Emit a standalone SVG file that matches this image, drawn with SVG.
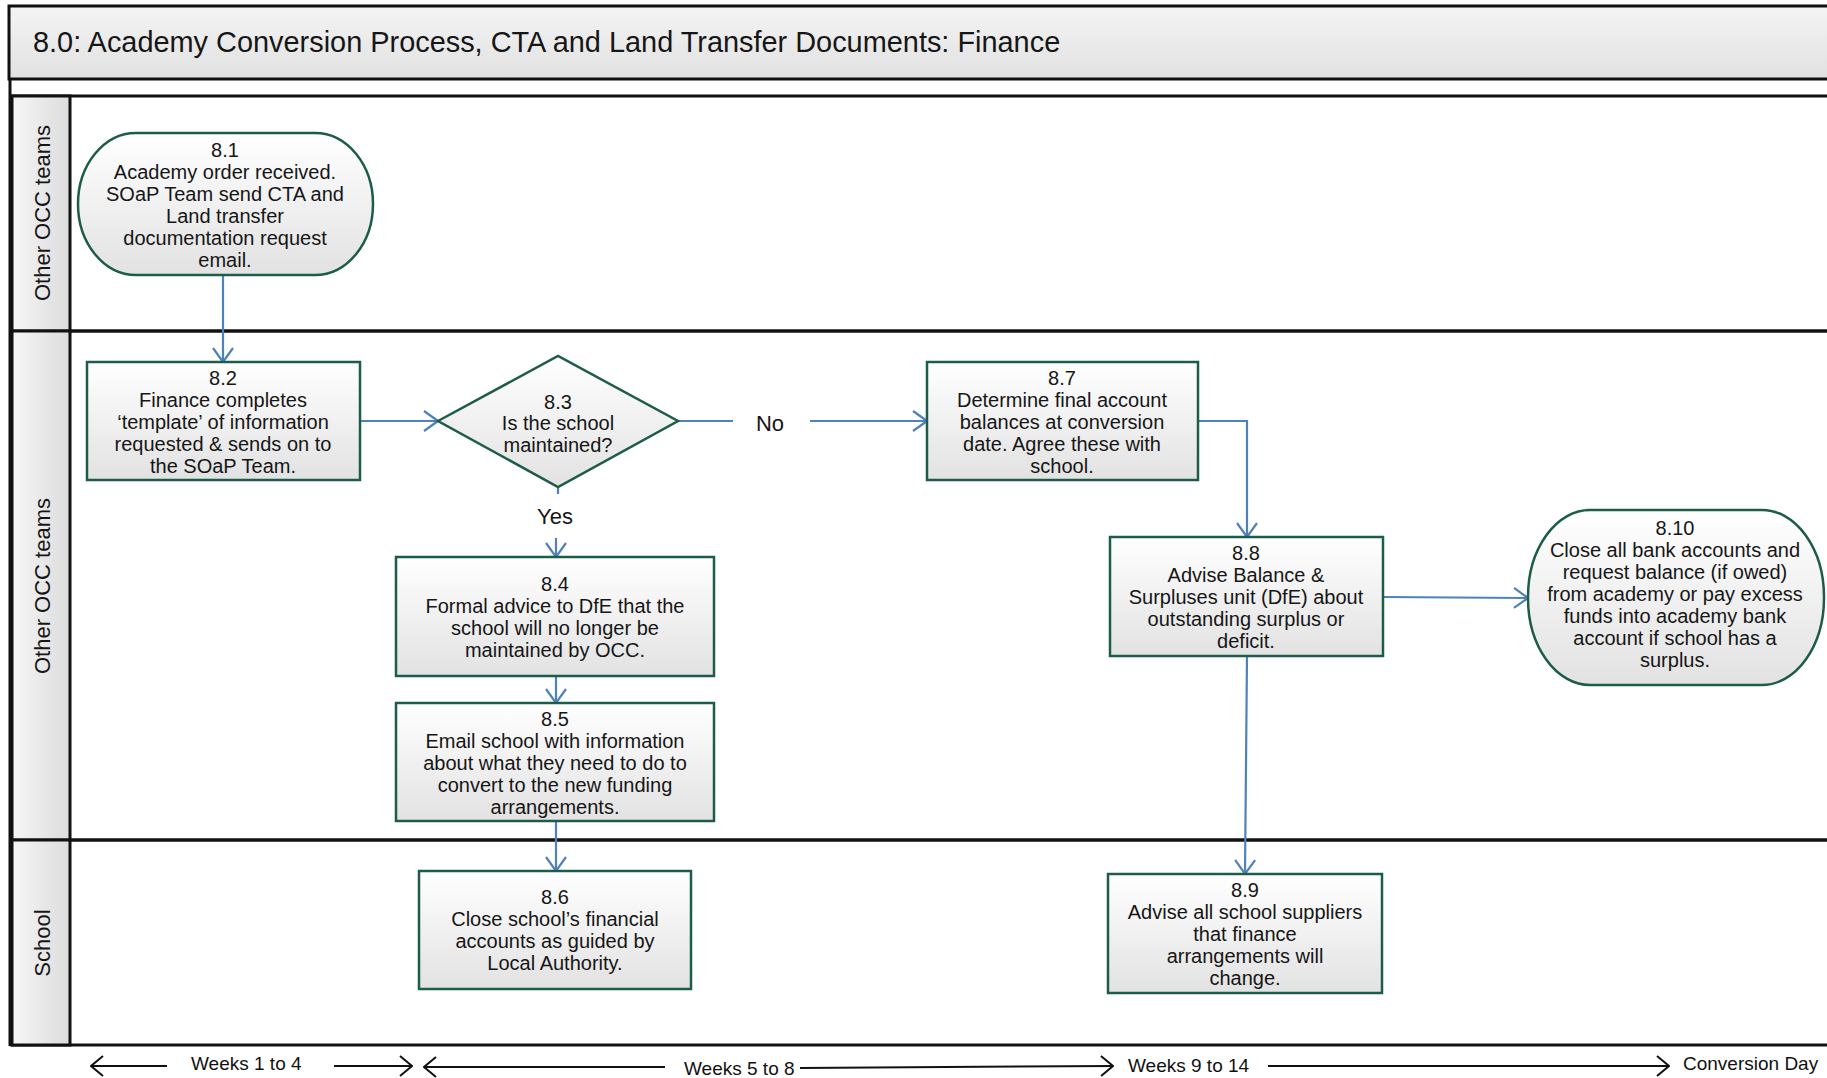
<svg xmlns="http://www.w3.org/2000/svg" width="1827" height="1078" viewBox="0 0 1827 1078">
<defs>
<linearGradient id="gNode" x1="0" y1="0" x2="0" y2="1"><stop offset="0" stop-color="#ffffff"/><stop offset="1" stop-color="#e2e2e2"/></linearGradient>
<linearGradient id="gTitle" x1="0" y1="0" x2="0" y2="1"><stop offset="0" stop-color="#f4f4f4"/><stop offset="1" stop-color="#e1e1e1"/></linearGradient>
<linearGradient id="gLane" x1="0" y1="0" x2="1" y2="0"><stop offset="0" stop-color="#f6f6f6"/><stop offset="1" stop-color="#dcdcdc"/></linearGradient>
<marker id="ab" viewBox="0 0 16 22" refX="15" refY="11" markerWidth="16" markerHeight="22" markerUnits="userSpaceOnUse" orient="auto"><path d="M1,1 L15,11 L1,21" fill="none" stroke="#4f81bd" stroke-width="2.2"/></marker>
<marker id="ak" viewBox="0 0 14 22" refX="13" refY="11" markerWidth="14" markerHeight="22" markerUnits="userSpaceOnUse" orient="auto"><path d="M1,1 L13,11 L1,21" fill="none" stroke="#111" stroke-width="2"/></marker>
</defs>
<style>
.frame{fill:none;stroke:#111;stroke-width:3}
.lanelab{fill:url(#gLane);stroke:#111;stroke-width:3}
.node{fill:url(#gNode);stroke:#1d5c48;stroke-width:2.5}
.t{font-family:"Liberation Sans",Arial,sans-serif;font-size:20px;fill:#161616;text-anchor:middle}
.lt{font-family:"Liberation Sans",Arial,sans-serif;font-size:22px;fill:#161616;text-anchor:middle}
.tl{font-family:"Liberation Sans",Arial,sans-serif;font-size:19px;fill:#111}
.c{fill:none;stroke:#4f81bd;stroke-width:2.2}
.k{fill:none;stroke:#111;stroke-width:2}
</style>
<rect width="1827" height="1078" fill="#ffffff"/>
<g id="title">
<rect x="9" y="6" width="1830" height="73" fill="url(#gTitle)" stroke="#111" stroke-width="3"/>
<text x="33" y="52" font-family="Liberation Sans, Arial, sans-serif" font-size="28.9" fill="#161616">8.0: Academy Conversion Process, CTA and Land Transfer Documents: Finance</text>
</g>
<g id="lanes">
<line x1="10" y1="79" x2="10" y2="1046" class="frame"/>
<rect x="12" y="96" width="1830" height="235" class="frame"/>
<rect x="12" y="331" width="1830" height="509" class="frame"/>
<rect x="12" y="840" width="1830" height="205" class="frame"/>
<rect x="12" y="96" width="58" height="235" class="lanelab"/>
<rect x="12" y="331" width="58" height="509" class="lanelab"/>
<rect x="12" y="840" width="58" height="205" class="lanelab"/>
<text class="lt" transform="translate(50,213) rotate(-90)">Other OCC teams</text>
<text class="lt" transform="translate(50,586) rotate(-90)">Other OCC teams</text>
<text class="lt" transform="translate(50,943) rotate(-90)">School</text>
</g>
<g id="connectors">
<line x1="223" y1="275" x2="223" y2="362" class="c" marker-end="url(#ab)"/>
<line x1="360" y1="421" x2="438" y2="421" class="c" marker-end="url(#ab)"/>
<line x1="678" y1="421" x2="733" y2="421" class="c"/>
<line x1="810" y1="421" x2="927" y2="421" class="c" marker-end="url(#ab)"/>
<line x1="558" y1="487" x2="558" y2="494" class="c"/>
<line x1="556" y1="538" x2="556" y2="557" class="c" marker-end="url(#ab)"/>
<line x1="556" y1="676" x2="556" y2="703" class="c" marker-end="url(#ab)"/>
<line x1="556" y1="821" x2="556" y2="871" class="c" marker-end="url(#ab)"/>
<path d="M1198,421 H1247 V537" class="c" marker-end="url(#ab)"/>
<line x1="1383" y1="597" x2="1528" y2="598" class="c" marker-end="url(#ab)"/>
<line x1="1247" y1="656" x2="1245" y2="874" class="c" marker-end="url(#ab)"/>
<text class="lt" x="770" y="431">No</text>
<text class="lt" x="555" y="524" font-size="21">Yes</text>
</g>
<g id="n81">
<rect x="78" y="133" width="295" height="142" rx="58" ry="71" class="node"/>
<text class="t" x="225" y="157">8.1</text>
<text class="t" x="225" y="179">Academy order received.</text>
<text class="t" x="225" y="201">SOaP Team send CTA and</text>
<text class="t" x="225" y="223">Land transfer</text>
<text class="t" x="225" y="245">documentation request</text>
<text class="t" x="225" y="267">email.</text>
</g>
<g id="n82">
<rect x="87" y="362" width="273" height="118" class="node"/>
<text class="t" x="223" y="385">8.2</text>
<text class="t" x="223" y="407">Finance completes</text>
<text class="t" x="223" y="429">‘template’ of information</text>
<text class="t" x="223" y="451">requested &amp; sends on to</text>
<text class="t" x="223" y="473">the SOaP Team.</text>
</g>
<g id="n83">
<polygon points="438,421 558,356 678,421 558,487" class="node"/>
<text class="t" x="558" y="409">8.3</text>
<text class="t" x="558" y="430">Is the school</text>
<text class="t" x="558" y="452">maintained?</text>
</g>
<g id="n84">
<rect x="396" y="557" width="318" height="119" class="node"/>
<text class="t" x="555" y="591">8.4</text>
<text class="t" x="555" y="613">Formal advice to DfE that the</text>
<text class="t" x="555" y="635">school will no longer be</text>
<text class="t" x="555" y="657">maintained by OCC.</text>
</g>
<g id="n85">
<rect x="396" y="703" width="318" height="118" class="node"/>
<text class="t" x="555" y="726">8.5</text>
<text class="t" x="555" y="748">Email school with information</text>
<text class="t" x="555" y="770">about what they need to do to</text>
<text class="t" x="555" y="792">convert to the new funding</text>
<text class="t" x="555" y="814">arrangements.</text>
</g>
<g id="n86">
<rect x="419" y="871" width="272" height="118" class="node"/>
<text class="t" x="555" y="904">8.6</text>
<text class="t" x="555" y="926">Close school’s financial</text>
<text class="t" x="555" y="948">accounts as guided by</text>
<text class="t" x="555" y="970">Local Authority.</text>
</g>
<g id="n87">
<rect x="927" y="362" width="271" height="118" class="node"/>
<text class="t" x="1062" y="385">8.7</text>
<text class="t" x="1062" y="407">Determine final account</text>
<text class="t" x="1062" y="429">balances at conversion</text>
<text class="t" x="1062" y="451">date. Agree these with</text>
<text class="t" x="1062" y="473">school.</text>
</g>
<g id="n88">
<rect x="1110" y="537" width="273" height="119" class="node"/>
<text class="t" x="1246" y="560">8.8</text>
<text class="t" x="1246" y="582">Advise Balance &amp;</text>
<text class="t" x="1246" y="604">Surpluses unit (DfE) about</text>
<text class="t" x="1246" y="626">outstanding surplus or</text>
<text class="t" x="1246" y="648">deficit.</text>
</g>
<g id="n89">
<rect x="1108" y="874" width="274" height="119" class="node"/>
<text class="t" x="1245" y="897">8.9</text>
<text class="t" x="1245" y="919">Advise all school suppliers</text>
<text class="t" x="1245" y="941">that finance</text>
<text class="t" x="1245" y="963">arrangements will</text>
<text class="t" x="1245" y="985">change.</text>
</g>
<g id="n810">
<rect x="1528" y="510" width="296" height="175" rx="62" ry="87" class="node"/>
<text class="t" x="1675" y="535">8.10</text>
<text class="t" x="1675" y="557">Close all bank accounts and</text>
<text class="t" x="1675" y="579">request balance (if owed)</text>
<text class="t" x="1675" y="601">from academy or pay excess</text>
<text class="t" x="1675" y="623">funds into academy bank</text>
<text class="t" x="1675" y="645">account if school has a</text>
<text class="t" x="1675" y="667">surplus.</text>
</g>
<g id="timeline">
<line x1="167" y1="1066" x2="91" y2="1066" class="k" marker-end="url(#ak)"/>
<line x1="334" y1="1066" x2="412" y2="1066" class="k" marker-end="url(#ak)"/>
<line x1="665" y1="1067" x2="424" y2="1067" class="k" marker-end="url(#ak)"/>
<line x1="800" y1="1068" x2="1113" y2="1066" class="k" marker-end="url(#ak)"/>
<line x1="1268" y1="1066" x2="1669" y2="1066" class="k" marker-end="url(#ak)"/>
<text class="tl" x="191" y="1070">Weeks 1 to 4</text>
<text class="tl" x="684" y="1075">Weeks 5 to 8</text>
<text class="tl" x="1128" y="1072">Weeks 9 to 14</text>
<text class="tl" x="1683" y="1070">Conversion Day</text>
</g>
</svg>
